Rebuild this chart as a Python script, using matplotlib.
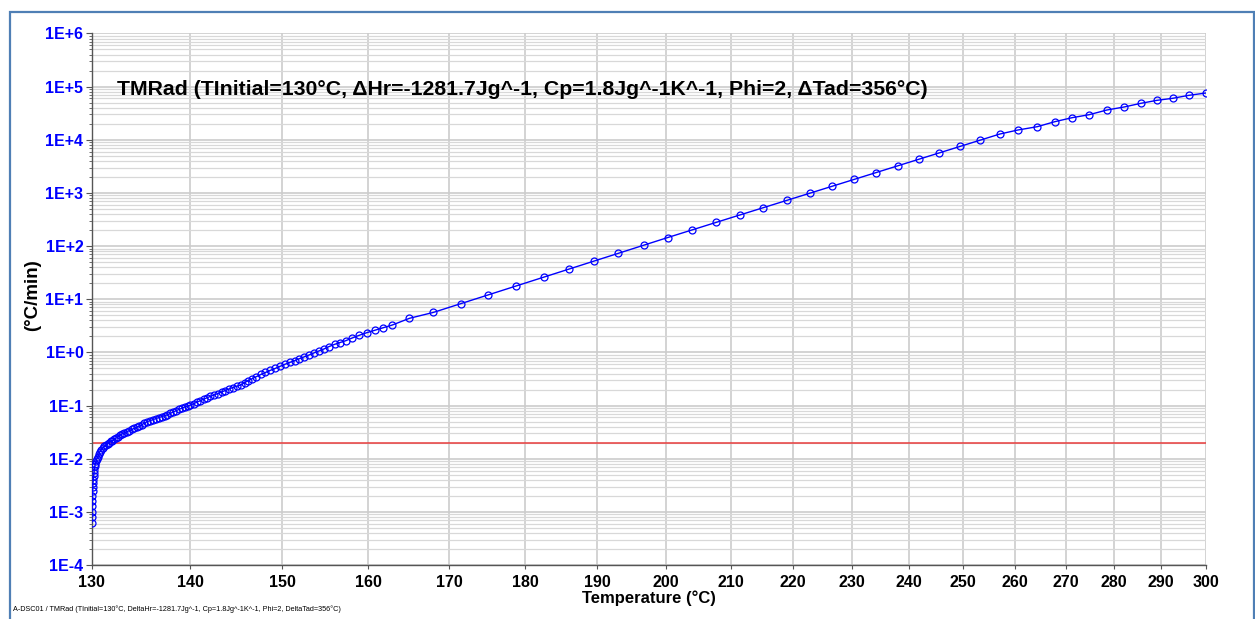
import numpy as np
import matplotlib
matplotlib.use('Agg')
import matplotlib.pyplot as plt
from matplotlib.patches import Rectangle
from matplotlib.ticker import FixedLocator, FuncFormatter, LogLocator, NullLocator

# self-heat rate (degC/min) against temperature (degC)
temps = [
    130.00, 130.01, 130.02, 130.03, 130.04, 130.06, 130.08, 130.10, 130.12, 130.15,
    130.18, 130.21, 130.25, 130.30, 130.35, 130.42, 130.50, 130.60, 130.70, 130.80,
    130.95, 131.10, 131.25, 131.40, 131.55, 131.70, 131.85, 132.00, 132.20, 132.40,
    132.60, 132.80, 133.00, 133.20, 133.45, 133.70, 133.95, 134.20, 134.45, 134.70,
    134.95, 135.20, 135.50, 135.80, 136.10, 136.40, 136.70, 137.00, 137.30, 137.60,
    137.90, 138.20, 138.50, 138.80, 139.10, 139.40, 139.70, 140.00, 140.35, 140.70,
    141.05, 141.40, 141.75, 142.10, 142.50, 142.90, 143.30, 143.70, 144.10, 144.50,
    144.95, 145.40, 145.80, 146.20, 146.65, 147.10, 147.60, 148.10, 148.65, 149.20,
    149.70, 150.30, 150.85, 151.40, 151.90, 152.50, 153.00, 153.60, 154.20, 154.80,
    155.30, 156.00, 156.60, 157.30, 158.00, 158.90, 159.80, 160.80, 161.80, 162.90,
    165.00, 168.0, 171.5, 175.0, 178.8, 182.5, 186.0, 189.5, 193.0, 196.7,
    200.3, 204.0, 207.7, 211.4, 215.2, 219.0, 222.8, 226.6, 230.4, 234.2,
    238.0, 241.8, 245.6, 249.4, 253.2, 257.0, 260.5, 264.3, 267.8, 271.3,
    274.8, 278.5, 282.1, 285.7, 289.2, 292.6, 296.2, 300.0]

rates = [
    6.2e-4, 8.0e-4, 1.0e-3, 1.3e-3, 1.6e-3, 2.0e-3, 2.5e-3, 3.0e-3, 3.5e-3, 4.0e-3,
    4.7e-3, 5.4e-3, 6.2e-3, 7.2e-3, 8.0e-3, 9.0e-3, 1.0e-2, 1.1e-2, 1.22e-2, 1.36e-2,
    1.48e-2, 1.60e-2, 1.71e-2, 1.82e-2, 1.92e-2, 2.01e-2, 2.11e-2, 2.20e-2, 2.32e-2, 2.45e-2,
    2.57e-2, 2.75e-2, 2.92e-2, 3.05e-2, 3.20e-2, 3.37e-2, 3.55e-2, 3.72e-2, 3.90e-2, 4.10e-2,
    4.30e-2, 4.65e-2, 4.97e-2, 5.20e-2, 5.45e-2, 5.70e-2, 5.95e-2, 6.20e-2, 6.45e-2, 6.70e-2,
    7.10e-2, 7.60e-2, 8.00e-2, 8.50e-2, 8.90e-2, 9.40e-2, 9.80e-2, 0.102, 0.109, 0.116,
    0.124, 0.132, 0.140, 0.149, 0.158, 0.168, 0.180, 0.192, 0.205, 0.218,
    0.231, 0.244, 0.270, 0.295, 0.322, 0.350, 0.385, 0.420, 0.460, 0.500,
    0.545, 0.600, 0.650, 0.700, 0.760, 0.830, 0.890, 0.980, 1.07, 1.17,
    1.28, 1.42, 1.53, 1.66, 1.85, 2.10, 2.35, 2.62, 2.93, 3.28,
    4.38, 5.66, 8.28, 12.0, 17.8, 26.0, 37.0, 52.2, 73.2, 104,
    145, 202, 279, 384, 528, 724, 986, 1336, 1803, 2420,
    3230, 4295, 5690, 7500, 9840, 12850, 15290, 17640, 21900, 26050,
    29670, 36370, 41410, 48610, 55360, 60370, 68770, 75950]

threshold = 0.02
x_ticks = list(range(130, 301, 10))
y_range = (1e-4, 1e6)

title = 'TMRad (TInitial=130\u00b0C, \u0394Hr=-1281.7Jg^-1, Cp=1.8Jg^-1K^-1, Phi=2, \u0394Tad=356\u00b0C)'
footer = 'A-DSC01 / TMRad (TInitial=130\u00b0C, DeltaHr=-1281.7Jg^-1, Cp=1.8Jg^-1K^-1, Phi=2, DeltaTad=356\u00b0C)'

plt.rcParams['font.family'] = ['Liberation Sans', 'DejaVu Sans']

fig = plt.figure(figsize=(12.55, 6.19), dpi=100)
fig.patch.set_facecolor('white')
fig.patches.append(Rectangle((0.008, -0.02), 0.991, 1.001, transform=fig.transFigure,
                             fill=False, ec='#4f7fb5', lw=1.6))

ax = fig.add_axes([0.0731, 0.0872, 0.8879, 0.8587])
ax.set_xscale('log')
ax.set_yscale('log')
ax.set_xlim(130, 300)
ax.set_ylim(*y_range)

ax.plot(temps, rates, color='#0000ff', lw=1, marker='o', ms=5, mfc='none', mec='#0000ff', mew=0.9,
        zorder=3)
ax.axhline(threshold, color='#e83c3c', lw=1.1, zorder=2)

ax.xaxis.set_major_locator(FixedLocator(x_ticks))
ax.xaxis.set_major_formatter(FuncFormatter(lambda v, p: '%d' % round(v)))
ax.xaxis.set_minor_locator(NullLocator())
ax.yaxis.set_major_locator(LogLocator(base=10, numticks=20))
ax.yaxis.set_minor_locator(LogLocator(base=10, subs=np.arange(2, 10), numticks=20))
ax.yaxis.set_major_formatter(FuncFormatter(lambda v, p: '1E%+d' % round(np.log10(v))))

ax.grid(True, axis='x', which='major', color='#d3d3d3', lw=1.4)
ax.grid(True, axis='y', which='major', color='#cccccc', lw=1.2)
ax.grid(True, axis='y', which='minor', color='#d8d8d8', lw=0.9)
ax.set_axisbelow(True)

for s in ['top', 'right']:
    ax.spines[s].set_visible(False)
for s in ['left', 'bottom']:
    ax.spines[s].set_color('#555555')
    ax.spines[s].set_linewidth(1)

ax.tick_params(axis='x', which='major', length=3, width=0.8, color='#555555', pad=4,
               labelsize=11.5, labelcolor='black')
ax.tick_params(axis='y', which='major', length=4, width=0.8, color='#555555', pad=2,
               labelsize=11.5, labelcolor='#0000ff')
ax.tick_params(axis='y', which='minor', length=2, width=0.6, color='#555555')
for lab in ax.get_xticklabels() + ax.get_yticklabels():
    lab.set_fontweight('bold')

ax.text(0.0227, 0.8843, title, transform=ax.transAxes, va='baseline', ha='left',
        fontsize=15.3, fontweight='bold', zorder=5)

fig.text(0.0263, 0.523, '(\u00b0C/min)', rotation=90, ha='center', va='center',
         fontsize=13.5, fontweight='bold')
fig.text(0.5171, 0.034, 'Temperature (\u00b0C)', ha='center', va='center',
         fontsize=12, fontweight='bold')
fig.text(0.0104, 0.009, footer, ha='left', va='bottom', fontsize=5.2)

fig.savefig('out.png', dpi=100)
